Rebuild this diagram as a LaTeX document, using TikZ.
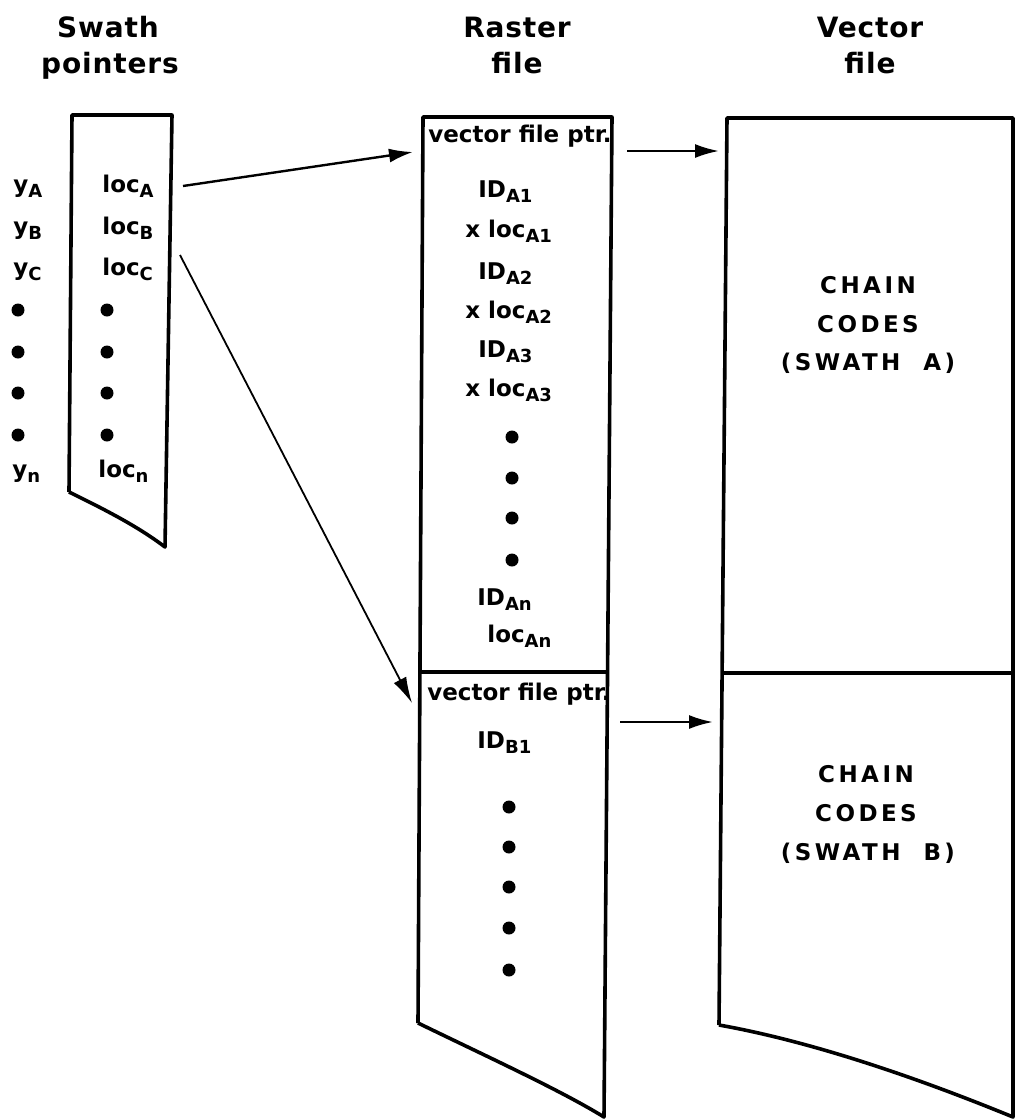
\documentclass[tikz,border=0pt]{standalone}
\usepackage{fontspec}
\setmainfont{DejaVu Sans}
\newfontfamily\bodyfont{DejaVu Sans Bold}
\newfontfamily\capsfont[LetterSpace=15]{DejaVu Sans Bold}
\newfontfamily\hdrfont[LetterSpace=3]{DejaVu Sans Bold}
\usetikzlibrary{arrows.meta}
\newcommand\subs[1]{\raisebox{-0.45ex}{\fontsize{9}{9}\selectfont #1}}
\begin{document}
\begin{tikzpicture}[x=0.5pt,y=-0.5pt,
  box/.style={line width=1.8pt, line join=round},
  arr/.style={line width=1.2pt, -{Latex[length=12pt,width=7pt]}},
  thinarr/.style={line width=0.9pt, -{Latex[length=13pt,width=7pt]}},
  hdr/.style={font=\hdrfont\fontsize{14}{17}\selectfont, inner sep=0pt, anchor=base},
  txt/.style={font=\bodyfont\fontsize{11.5}{13}\selectfont, inner sep=0pt, anchor=base west},
  cc/.style={font=\capsfont\fontsize{11.5}{13}\selectfont, inner sep=0pt, anchor=base},
  dotn/.style={circle, fill, inner sep=0pt, minimum size=6.5pt}]
\useasboundingbox (0,0) rectangle (1015,1120);

% headers
\node[hdr] (h1) at (108,37) {Swath};
\node[hdr] (h2) at (110,73) {pointers};
\node[hdr] (h3) at (517,37) {Raster};
\node[hdr] (h4) at (517,73) {file};
\node[hdr] (h5) at (870,37) {Vector};
\node[hdr] (h6) at (870,73) {file};

% swath pointers box
\coordinate (sp1) at (72,115);
\coordinate (sp2) at (172,115);
\coordinate (sp3) at (165,547);
\coordinate (sp4) at (69,492);
\draw[box] (sp4) -- (sp1) -- (sp2) -- (sp3) .. controls (140,528) and (110,512) .. (sp4);

% raster file box
\coordinate (rf1) at (423,117);
\coordinate (rf2) at (612,117);
\coordinate (rf3) at (604,1117);
\coordinate (rf4) at (418,1023);
\coordinate (rfd1) at (420,672);
\coordinate (rfd2) at (608,672);
\draw[box] (rf4) -- (rf1) -- (rf2) -- (rf3) .. controls (560,1090) and (490,1058) .. (rf4);
\draw[box] (rfd1) -- (rfd2);

% vector file box
\coordinate (vf1) at (727,118);
\coordinate (vf2) at (1013,118);
\coordinate (vf3) at (1013,1117);
\coordinate (vf4) at (719,1025);
\coordinate (vfd1) at (723,673);
\coordinate (vfd2) at (1013,673);
\draw[box] (vf4) -- (vf1) -- (vf2) -- (vf3) .. controls (930,1083) and (820,1043) .. (vf4);
\draw[box] (vfd1) -- (vfd2);

% swath pointer entries
\node[txt] (ya) at (13,192) {y\subs{A}};
\node[txt] (yb) at (13,234) {y\subs{B}};
\node[txt] (yc) at (13,275) {y\subs{C}};
\node[dotn] (ld1) at (18,310) {};
\node[dotn] (ld2) at (18,352) {};
\node[dotn] (ld3) at (18,393) {};
\node[dotn] (ld4) at (18,435) {};
\node[txt] (yn) at (12,477) {y\subs{n}};
\node[txt] (la) at (102,192) {loc\subs{A}};
\node[txt] (lb) at (102,234) {loc\subs{B}};
\node[txt] (lc) at (102,275) {loc\subs{C}};
\node[dotn] (rd1) at (107,310) {};
\node[dotn] (rd2) at (107,352) {};
\node[dotn] (rd3) at (107,393) {};
\node[dotn] (rd4) at (107,435) {};
\node[txt] (ln) at (98,477) {loc\subs{n}};

% raster file entries
\node[txt] (vp1) at (428,142) {vector file ptr.};
\node[txt] (ida1) at (478,197) {ID\subs{A1}};
\node[txt] (xla1) at (465,237) {x loc\subs{A1}};
\node[txt] (ida2) at (478,279) {ID\subs{A2}};
\node[txt] (xla2) at (465,318) {x loc\subs{A2}};
\node[txt] (ida3) at (478,357) {ID\subs{A3}};
\node[txt] (xla3) at (465,396) {x loc\subs{A3}};
\node[dotn] (ad1) at (512,437) {};
\node[dotn] (ad2) at (512,478) {};
\node[dotn] (ad3) at (512,518) {};
\node[dotn] (ad4) at (512,560) {};
\node[txt] (idan) at (477,605) {ID\subs{An}};
\node[txt] (lan) at (487,642) {loc\subs{An}};
\node[txt] (vp2) at (427,700) {vector file ptr.};
\node[txt] (idb1) at (477,748) {ID\subs{B1}};
\node[dotn] (bd1) at (509,807) {};
\node[dotn] (bd2) at (509,847) {};
\node[dotn] (bd3) at (509,887) {};
\node[dotn] (bd4) at (509,928) {};
\node[dotn] (bd5) at (509,970) {};

% vector file texts
\node[cc] (ca1) at (868,293) {CHAIN};
\node[cc] (ca2) at (868,332) {CODES};
\node[cc] (ca3) at (868,370) {(SWATH\ \ A)};
\node[cc] (cb1) at (866,782) {CHAIN};
\node[cc] (cb2) at (866,821) {CODES};
\node[cc] (cb3) at (868,860) {(SWATH\ \ B)};

% arrows
\coordinate (a1s) at (183,186);
\coordinate (a1e) at (413,152);
\draw[arr] (a1s) -- (a1e);
\coordinate (a2s) at (180,255);
\coordinate (a2e) at (412,703);
\draw[thinarr] (a2s) -- (a2e);
\coordinate (a3s) at (627,151);
\coordinate (a3e) at (719,151);
\draw[arr] (a3s) -- (a3e);
\coordinate (a4s) at (620,722);
\coordinate (a4e) at (713,722);
\draw[arr] (a4s) -- (a4e);
\end{tikzpicture}
\end{document}
